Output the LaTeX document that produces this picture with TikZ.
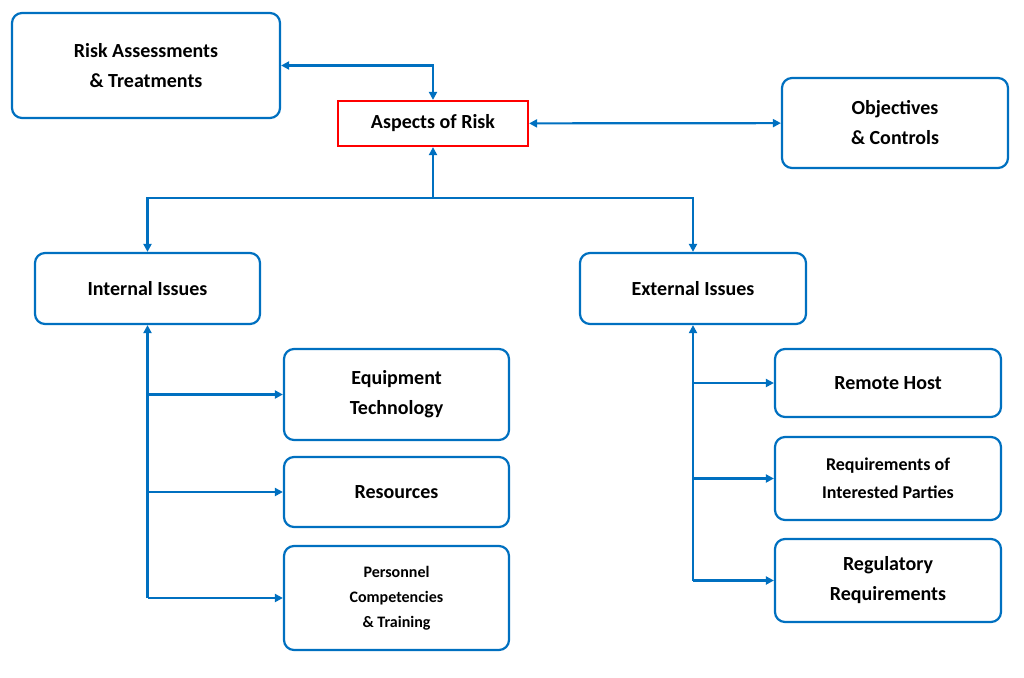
\documentclass[tikz,border=0pt]{standalone}
\usepackage{fontspec}
\setmainfont{Carlito}
\usetikzlibrary{arrows.meta,positioning}
\definecolor{riskblue}{RGB}{0,112,192}
\begin{document}
\begin{tikzpicture}[
    x=1pt, y=-1pt,
    block/.style={rectangle, draw=riskblue, line width=2.2pt, rounded corners=10pt, text centered, font=\bfseries\fontsize{20}{30}\selectfont, align=center, inner sep=0pt},
    arrow/.style={draw=riskblue, line width=2.2pt, -{Triangle[length=8pt,width=8pt]}},
    darrow/.style={draw=riskblue, line width=2.2pt, {Triangle[length=8pt,width=8pt]}-{Triangle[length=8pt,width=8pt]}}
]
\useasboundingbox (0,0) rectangle (1024,677);

% Top row
\node [block, draw=red, rounded corners=0pt, minimum width=190pt, minimum height=45pt] (aspects) at (433,123.5) {Aspects of Risk};
\node [block, minimum width=268pt, minimum height=105pt] (assess) at (146,65.5) {Risk Assessments\\\& Treatments};
\node [block, minimum width=226pt, minimum height=90pt] (objectives) at (895,123) {Objectives\\\& Controls};

% Issues
\node [block, minimum width=225pt, minimum height=71pt] (internal) at (147.5,288.5) {Internal Issues};
\node [block, minimum width=226pt, minimum height=71pt] (external) at (693,288.5) {External Issues};

% Internal items
\node [block, minimum width=225pt, minimum height=91pt] (equipment) at (396.5,394.5) {Equipment\\Technology};
\node [block, minimum width=225pt, minimum height=70pt] (resources) at (396.5,492) {Resources};
\node [block, minimum width=225pt, minimum height=104pt, font=\bfseries\fontsize{16}{25}\selectfont] (personnel) at (396.5,598) {Personnel\\Competencies\\\& Training};

% External items
\node [block, minimum width=226pt, minimum height=68pt] (remote) at (888,383) {Remote Host};
\node [block, minimum width=226pt, minimum height=83pt, font=\bfseries\fontsize{18}{28}\selectfont] (parties) at (888,478.5) {Requirements of\\Interested Parties};
\node [block, minimum width=226pt, minimum height=83pt] (regulatory) at (888,580.5) {Regulatory\\Requirements};

% Arrows
\coordinate (split) at (433,198);
\draw [darrow] (aspects.north) |- (assess.east);
\draw [darrow] (aspects) -- (objectives);
\draw [arrow] (split) -- (aspects.south);
\draw [arrow] (split) -| (internal.north);
\draw [arrow] (split) -| (external.north);

\draw [arrow] (internal.south |- personnel.west) -- (internal.south);
\draw [arrow] (internal.south |- equipment.west) -- (equipment.west);
\draw [arrow] (internal.south |- resources.west) -- (resources.west);
\draw [arrow] (internal.south |- personnel.west) -- (personnel.west);

\draw [arrow] (external.south |- regulatory.west) -- (external.south);
\draw [arrow] (external.south |- remote.west) -- (remote.west);
\draw [arrow] (external.south |- parties.west) -- (parties.west);
\draw [arrow] (external.south |- regulatory.west) -- (regulatory.west);

\end{tikzpicture}
\end{document}
